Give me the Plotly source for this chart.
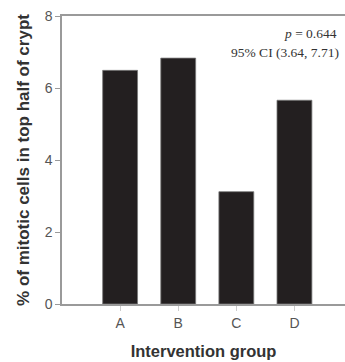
import plotly.graph_objects as go

groups = ["A", "B", "C", "D"]
values = [6.49, 6.83, 3.12, 5.66]
y_ticks = [0, 2, 4, 6, 8]

fig = go.Figure()
fig.add_trace(go.Bar(
    x=groups, y=values, width=0.6,
    marker=dict(color="#231f20", line=dict(color="#777777", width=0.8)),
))

axis_col = "#9a9a9a"
fig.update_layout(
    width=345, height=362,
    margin=dict(l=62, r=0, t=16, b=58),
    paper_bgcolor="white", plot_bgcolor="white",
    showlegend=False,
    font=dict(family="Liberation Sans, Arial", color="#555555"),
)
fig.update_xaxes(
    type="category", range=[-1, 3.87],
    showline=True, linecolor=axis_col, linewidth=1.5, mirror=True,
    ticks="outside", ticklen=5, tickcolor="#cccccc", tickwidth=1,
    tickfont=dict(size=14, color="#555555"),
    showgrid=False,
    title=dict(text="<b>Intervention group</b>", font=dict(size=16.5, color="#333333"), standoff=16),
)
fig.update_yaxes(
    range=[0, 8], tickvals=y_ticks,
    showline=True, linecolor=axis_col, linewidth=1.5,
    ticks="outside", ticklen=5, tickcolor=axis_col, tickwidth=1,
    tickfont=dict(size=14, color="#555555"),
    showgrid=False, zeroline=False,
    title=dict(text="<b>% of mitotic cells in top half of crypt</b>", font=dict(size=17, color="#333333"), standoff=11),
)
fig.add_annotation(
    xref="paper", yref="paper", x=(339 - 62) / 283, y=(304 - 33) / 288, xanchor="right", yanchor="middle",
    text="<i>p</i> = 0.644", showarrow=False,
    font=dict(family="Liberation Serif, Times New Roman", size=13.5, color="#333333"),
)
fig.add_annotation(
    xref="paper", yref="paper", x=(341 - 62) / 283, y=(304 - 52) / 288, xanchor="right", yanchor="middle",
    text="95% CI (3.64, 7.71)", showarrow=False,
    font=dict(family="Liberation Serif, Times New Roman", size=13.5, color="#333333"),
)
fig.write_html("out.html", config={"displayModeBar": False},
               post_script="document.body.style.margin='0';")
